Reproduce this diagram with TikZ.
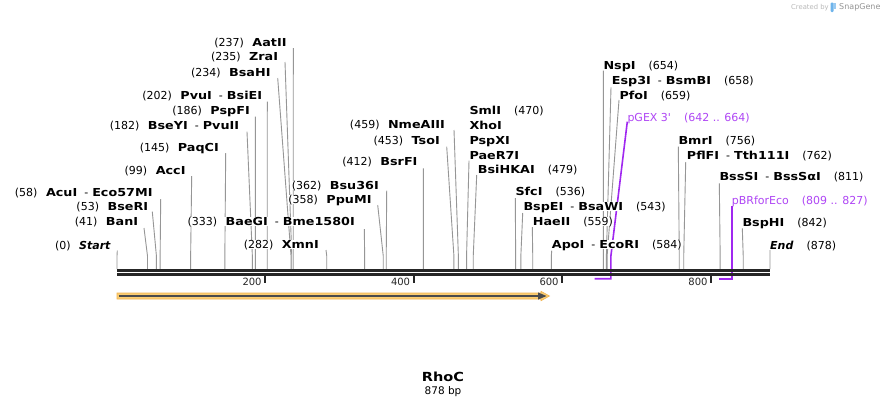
\documentclass[tikz,border=0pt]{standalone}
\usepackage{fontspec}
\setmainfont{DejaVu Sans}[BoldFeatures={FakeStretch=1.16}]
\definecolor{cutgray}{RGB}{150,150,150}
\definecolor{seqdark}{RGB}{38,38,38}
\definecolor{featpurple}{RGB}{160,40,240}
\definecolor{textpurple}{RGB}{175,70,245}
\definecolor{orfill}{RGB}{250,205,115}
\definecolor{ordraw}{RGB}{242,180,80}
\definecolor{ordark}{RGB}{75,75,75}
\definecolor{marktxt}{RGB}{185,185,185}
\definecolor{markblue}{RGB}{110,180,235}
\pgfdeclarelayer{bg}
\pgfsetlayers{bg,main}
\newcommand\bname[1]{\textbf{#1}}
\newcommand\numgapL{\hspace{8.5pt}}
\newcommand\numgapR{\hspace{13pt}}
\newcommand\enzpair[2]{\bname{#1}\hspace{7pt}-\hspace{4pt}\bname{#2}}
\newcommand\enzL[7]{%
  \node[lab,anchor=east] (#1) at (#2,#3) {#4};
  \coordinate (#1-t) at (#5,#6);
  \coordinate (#1-b) at ({117+#7*0.743736},256);
  \coordinate (#1-c) at ({117+#7*0.743736},269);
  \begin{pgfonlayer}{bg}\draw[cutline] (#1-t) -- (#1-b) -- (#1-c);\end{pgfonlayer}}
\newcommand\enzR[7]{%
  \node[lab,anchor=west] (#1) at (#2,#3) {#4};
  \coordinate (#1-t) at (#5,#6);
  \coordinate (#1-b) at ({117+#7*0.743736},256);
  \coordinate (#1-c) at ({117+#7*0.743736},269);
  \begin{pgfonlayer}{bg}\draw[cutline] (#1-t) -- (#1-b) -- (#1-c);\end{pgfonlayer}}
\tikzset{
  lab/.style={inner sep=0pt, fill=white, text height=8.5pt, text depth=0.5pt, font=\fontsize{11}{13}\selectfont, text=black},
  featlab/.style={lab, text=textpurple},
  cutline/.style={draw=cutgray, line width=0.9pt},
  featline/.style={draw=featpurple, line width=1.6pt},
  seqline/.style={draw=seqdark, line width=2.7pt},
  tickmark/.style={draw=seqdark, line width=2pt},
  ticklab/.style={inner sep=0pt, font=\fontsize{10}{12}\selectfont, text=seqdark},
}
\begin{document}
\begin{tikzpicture}[x=1pt,y=-1pt]
\begin{pgfonlayer}{bg}
\path[use as bounding box, fill=white] (0,0) rectangle (888,408);
\end{pgfonlayer}
% watermark
\node[inner sep=0pt, anchor=west, text=marktxt, font=\fontsize{6.8}{8}\selectfont] (wm1) at (791,7.3) {Created by};
\fill[markblue, rounded corners=1pt] (830.5,2.5) rectangle (833.5,12);
\fill[markblue!70] (833,2.5) rectangle (836,8.5);
\node[inner sep=0pt, anchor=west, text=marktxt!80!black, font=\fontsize{8}{9}\selectfont] (wm2) at (839,7.3) {SnapGene};
% sequence
\coordinate (s0a) at (117,270.35);
\coordinate (s1a) at (770,270.35);
\coordinate (s0b) at (117,274.35);
\coordinate (s1b) at (770,274.35);
\draw[seqline] (s0a) -- (s1a);
\draw[seqline] (s0b) -- (s1b);
% ticks
\foreach \p/\xt in {200/265.3,400/413.8,600/562.3,800/711.2}{
  \draw[tickmark] (\xt,275.7) -- (\xt,282.7);
  \node[ticklab, anchor=east] (tick\p) at (\xt-3.5,281.7) {\p};
}
% ORF arrow
\filldraw[fill=orfill, draw=ordraw, line width=0.6pt] (117,293) -- (541,293) -- (541,291.3) -- (549.5,296) -- (541,300.7) -- (541,299) -- (117,299) -- cycle;
\draw[ordark, line width=2.2pt] (118.5,296) -- (540,296);
\fill[ordark] (538,292.4) -- (546.5,296) -- (538,299.6) -- cycle;
% left-side enzymes
\enzL{aat}{286.7}{42.3}{(237)\numgapL\bname{AatII}}{293.3}{48}{237}
\enzL{zra}{278.3}{56.7}{(235)\numgapL\bname{ZraI}}{285}{62}{235}
\enzL{bsahi}{270.7}{72.3}{(234)\numgapL\bname{BsaHI}}{277.7}{78}{234}
\enzL{pvui}{262.3}{95.7}{(202)\numgapL\enzpair{PvuI}{BsiEI}}{267.3}{101.7}{202}
\enzL{pspfi}{250}{110}{(186)\numgapL\bname{PspFI}}{255.3}{116.7}{186}
\enzL{bseyi}{239.3}{125}{(182)\numgapL\enzpair{BseYI}{PvuII}}{247}{131.7}{182}
\enzL{paqci}{219}{147.3}{(145)\numgapL\bname{PaqCI}}{225.7}{153}{145}
\enzL{acci}{185.7}{170.7}{(99)\numgapL\bname{AccI}}{191.7}{176}{99}
\enzL{acui}{152.7}{192.3}{(58)\numgapL\enzpair{AcuI}{Eco57MI}}{160.7}{199}{58}
\enzL{bseri}{148.3}{206.7}{(53)\numgapL\bname{BseRI}}{152.3}{211.7}{53}
\enzL{bani}{138.3}{221.7}{(41)\numgapL\bname{BanI}}{144}{228}{41}
\enzL{start}{111}{245}{(0)\numgapL\textbf{\textit{Start}}}{117.3}{250.7}{0}
\enzL{baegi}{355}{221.7}{(333)\numgapL\enzpair{BaeGI}{Bme1580I}}{364.3}{229}{333}
\enzL{xmni}{319}{244.3}{(282)\numgapL\bname{XmnI}}{326}{250}{282}
\enzL{bsu}{379}{185}{(362)\numgapL\bname{Bsu36I}}{386.7}{190.7}{362}
\enzL{ppumi}{371.7}{199.3}{(358)\numgapL\bname{PpuMI}}{377.7}{205}{358}
\enzL{bsrfi}{417.7}{161.7}{(412)\numgapL\bname{BsrFI}}{423.3}{168.3}{412}
\enzL{tsoi}{440}{140}{(453)\numgapL\bname{TsoI}}{446.7}{146.7}{453}
\enzL{nme}{445}{124.3}{(459)\numgapL\bname{NmeAIII}}{454}{130}{459}
% right-side enzymes
\node[lab,anchor=west] (smli) at (469.3,110) {\bname{SmlI}\numgapR(470)};
\node[lab,anchor=west] (xhoi) at (469.3,125) {\bname{XhoI}};
\node[lab,anchor=west] (pspxi) at (469.3,140) {\bname{PspXI}};
\enzR{paer}{469.3}{155}{\bname{PaeR7I}}{469}{160.7}{470}
\enzR{bsihkai}{477.7}{169.3}{\bname{BsiHKAI}\numgapR(479)}{476.7}{175}{479}
\enzR{sfci}{515.3}{191}{\bname{SfcI}\numgapR(536)}{515.3}{198}{536}
\enzR{bspei}{523.3}{206.7}{\enzpair{BspEI}{BsaWI}\numgapR(543)}{522.7}{213}{543}
\enzR{haeii}{532.7}{221.7}{\bname{HaeII}\numgapR(559)}{532.3}{227}{559}
\enzR{apoi}{551.7}{244.3}{\enzpair{ApoI}{EcoRI}\numgapR(584)}{551.7}{250.7}{584}
\enzR{nspi}{603.3}{65}{\bname{NspI}\numgapR(654)}{603.3}{70.7}{654}
\enzR{esp}{611.7}{80}{\enzpair{Esp3I}{BsmBI}\numgapR(658)}{611}{87.3}{658}
\enzR{pfoi}{619.3}{95}{\bname{PfoI}\numgapR(659)}{619}{100}{659}
\enzR{bmri}{678.3}{140}{\bname{BmrI}\numgapR(756)}{678.3}{146.7}{756}
\enzR{pflfi}{686.7}{155.3}{\enzpair{PflFI}{Tth111I}\numgapR(762)}{685.7}{162}{762}
\enzR{bsssi}{719.3}{176.7}{\enzpair{BssSI}{BssSαI}\numgapR(811)}{719.3}{183.3}{811}
\enzR{bsphi}{742.3}{222.3}{\bname{BspHI}\numgapR(842)}{742.3}{228.3}{842}
\enzR{end}{770}{245}{\textbf{\textit{End}}\numgapR(878)}{770}{250}{878}
% features
\node[featlab,anchor=west] (pgex) at (627.3,117.3) {pGEX 3\textquotesingle\numgapR(642 .. 664)};
\coordinate (pgex-t) at (627.3,121.7);
\coordinate (pgex-b) at (610.8,256.7);
\coordinate (pgex-r) at (610.8,278.7);
\coordinate (pgex-l) at (594.5,278.7);
\begin{pgfonlayer}{bg}
\draw[featline] (pgex-t) -- (pgex-b) -- (pgex-r) -- (pgex-l);
\end{pgfonlayer}
\node[featlab,anchor=west] (pbr) at (731.7,200) {pBRforEco\numgapR(809 .. 827)};
\coordinate (pbr-t) at (732.1,205.5);
\coordinate (pbr-r) at (732.1,278.7);
\coordinate (pbr-l) at (718.7,278.7);
\begin{pgfonlayer}{bg}
\draw[featline] (pbr-t) -- (pbr-r) -- (pbr-l);
\end{pgfonlayer}
% title
\node[inner sep=0pt, font=\bfseries\fontsize{12.5}{14}\selectfont] (title) at (443,376.5) {RhoC};
\node[inner sep=0pt, font=\fontsize{10.5}{12}\selectfont] (size) at (443,391.5) {878 bp};
\end{tikzpicture}
\end{document}
